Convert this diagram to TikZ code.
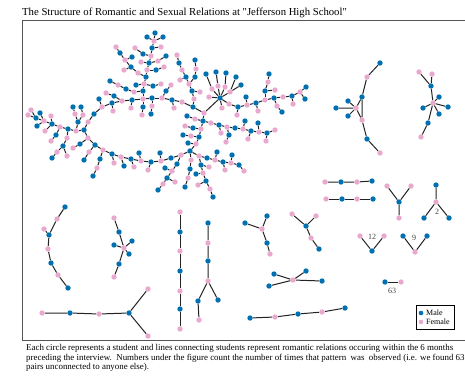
\documentclass[tikz,border=0pt]{standalone}
\usepackage{fontspec}
\setmainfont{Liberation Serif}[Ligatures=TeXOff]
\pgfdeclarelayer{bg}
\pgfsetlayers{bg,main}
\definecolor{mblue}{RGB}{0,112,176}
\definecolor{fpink}{RGB}{233,168,205}
\definecolor{edgec}{RGB}{35,35,35}
\definecolor{framec}{RGB}{85,85,85}
\tikzset{
  mm/.style={circle,fill=mblue,inner sep=0pt,minimum size=5.4pt},
  ff/.style={circle,fill=fpink,inner sep=0pt,minimum size=5.4pt},
  lnk/.style={draw=edgec,line width=1pt},
  cnt/.style={font=\fontsize{8}{9}\selectfont,text=black!75,inner sep=0pt},
  captxt/.style={font=\fontsize{8.9}{10}\selectfont,anchor=base west,inner sep=0pt},
}
\newcommand\chain[3]{%
  \xdef\chainprev{#2}%
  \foreach \cx/\cy/\cg [count=\ci] in {#3}{%
    \node[\cg] (#1-\ci) at (\cx,\cy) {};
    \begin{pgfonlayer}{bg}\draw[lnk] (\chainprev) -- (#1-\ci);\end{pgfonlayer}
    \xdef\chainprev{#1-\ci}%
  }%
}
\newcommand\lk[2]{\begin{pgfonlayer}{bg}\draw[lnk] (#1) -- (#2);\end{pgfonlayer}}
\begin{document}
\begin{tikzpicture}[x=1pt,y=-1pt]
\useasboundingbox (0,0) rectangle (465,375);
% frame
\draw[framec,line width=1pt] (465,20) -- (22,20) -- (22,340) -- (465,340);
% title
\node[anchor=base west,inner sep=0pt,font=\fontsize{10.7}{12}\selectfont] (title) at (22,15.5) {The Structure of Romantic and Sexual Relations at "Jefferson High School"};
% caption
\node[captxt] (cap1) at (26,350) {Each circle represents a student and lines connecting students represent romantic relations occuring within the 6 months};
\node[captxt] (cap2) at (26,360) {preceding the interview.\ \ Numbers under the figure count the number of times that pattern\ \ was\ \ observed (i.e. we found 63};
\node[captxt] (cap3) at (26,369) {pairs unconnected to anyone else).};

% ===== big component =====
\node[ff] (T) at (143,99) {};
\chain{u}{T}{152/98/mm,162/98/ff,172/100/mm,182/102/ff,193/107/mm,204/113/ff,203/121/mm,201/129/ff,199/137/mm,196/144/ff,190/151/mm,181/155/ff,171/158/mm,161/161/ff,151/162/mm,141/161/ff,131/159/mm,121/157/ff,112/154/mm,103/150/ff,95/145/mm,88/138/ff,84/130/mm,88/122/ff,94/114/mm,102/107/ff,112/103/mm,122/101/ff,132/100/mm}
\lk{u-29}{T}
% top tree
\chain{t}{T}{143/91/mm,144/84/ff,146/77/mm,147/70/ff,149/63/mm,151/56/ff,152/48/mm,154/41/ff,155/33/mm}
\chain{ta}{t-8}{147/37/mm}
\chain{tb}{t-8}{163/37/mm}
\chain{tc}{t-7}{161/47/ff}
\chain{td}{t-6}{143/54/mm,135/48/ff}
\chain{te}{t-5}{158/61/ff,166/56/mm}
\chain{tf}{t-4}{156/70/mm,164/67/ff}
\chain{tg}{t-3}{138/73/ff,131/67/mm,125/60/ff,120/53/mm,116/47/ff}
\chain{th}{tg-2}{124/70/ff}
\chain{ti}{tg-3}{132/57/mm}
\chain{tj}{t-2}{153/86/mm,161/84/ff}
\chain{tk}{t-2}{136/85/mm}
\chain{tl}{t-1}{134/92/ff,126/89/mm,118/85/ff,110/81/mm}
\chain{tn}{u-28}{114/96/mm,106/93/ff}
\chain{to}{T}{143/107/mm,142/115/ff}
\chain{tp}{u-1}{152/106/ff,151/114/mm}
\chain{tr}{t-5}{141/62/ff}
% upper arc branches
\chain{ua}{u-2}{166/91/mm,171/85/ff}
\chain{uc}{u-5}{194/99/ff,192/91/mm,189/84/ff,186/77/mm,182/70/ff,179/63/mm,177/55/ff}
\chain{ud}{uc-3}{195/77/mm,196/69/ff,195/60/mm}
\chain{ue}{uc-4}{180/80/ff}
\chain{uf}{uc-2}{200/92/ff}
\chain{ug}{u-3}{174/108/ff}
% star
\chain{s}{u-6}{220/98/mm}
\chain{sa}{s-1}{212/89/ff,206/74/mm}
\chain{sb}{s-1}{218/86/ff,216/72/mm}
\chain{sc}{s-1}{225/87/ff,226/73/mm}
\chain{sd}{s-1}{230/92/ff,236/77/mm}
\chain{se}{sd-1}{241/85/mm}
\chain{sf}{s-1}{209/97/ff}
\chain{sg}{s-1}{222/108/ff}
% right arm
\chain{sh}{s-1}{229/104/ff,238/107/mm,247/105/ff,256/103/mm,265/100/ff,274/98/mm,283/97/ff,292/96/mm,300/92/ff,306/87/mm}
\chain{si}{sh-9}{305/99/mm}
\chain{sj}{sh-5}{265/91/mm,268/82/ff,269/74/mm}
\chain{sk}{sj-1}{275/90/ff}
\chain{sl}{sh-4}{258/111/ff}
\chain{sm}{sh-6}{277/106/ff,282/112/mm}
\chain{sn}{sh-2}{237/115/ff}
\chain{so}{sh-3}{246/97/mm}
\chain{sp}{sh-8}{293/104/ff}
% lower right branch
\chain{lr}{u-7}{211/123/ff,219/125/mm,227/127/ff,235/128/mm,243/129/ff,251/131/mm,259/132/ff,267/133/mm,275/130/ff}
\chain{lra}{lr-5}{245/121/mm}
\chain{lrb}{lr-6}{248/139/ff}
\chain{lrc}{lr-7}{258/123/mm}
\chain{lrd}{lr-8}{266/141/ff}
\chain{lre}{lr-2}{221/133/ff}
\chain{lrf}{lr-3}{229/135/mm,226/142/ff}
% comb left of right side
\chain{ca}{u-7}{195/119/ff,187/116/mm}
\chain{cb}{u-8}{193/128/mm,185/126/ff}
\chain{cc}{u-9}{191/136/ff,183/135/mm}
\chain{cd}{u-10}{188/143/mm}
% bottom tree
\chain{ba}{u-11}{199/156/ff,207/158/mm,215/160/ff,223/162/mm,231/163/ff,239/165/mm}
\chain{bb}{ba-1}{201/165/mm,203/173/ff,206/181/mm,210/189/ff,213/197/mm}
\chain{bc}{u-11}{191/160/ff,190/169/mm,188/178/ff,185/187/mm}
\chain{bd}{u-12}{177/164/mm,172/171/ff,167/178/mm,163/184/ff,158/190/mm}
\chain{be}{ba-3}{217/152/mm}
\chain{bf}{ba-4}{225/170/ff}
\chain{bq}{ba-5}{232/155/mm}
\chain{bh}{bb-1}{209/167/ff}
\chain{bi}{bb-3}{198/185/ff}
\chain{bj}{bb-2}{196/174/mm}
\chain{bl}{bd-2}{165/168/mm}
\chain{bm}{bd-3}{175/182/ff}
\chain{bo}{ba-6}{244/171/ff}
% lower arc branches
\chain{la}{u-15}{148/170/ff}
\chain{lb}{u-17}{134/167/ff}
\chain{lc}{u-19}{114/163/ff}
\chain{ld}{u-20}{100/159/mm,97/168/ff,93/176/mm}
\chain{le}{u-18}{124/166/mm}
\chain{lf}{u-16}{139/153/mm}
\chain{lg}{u-14}{160/153/mm}
\chain{lh}{u-21}{89/152/ff,84/160/mm}
\chain{li}{u-22}{80/144/mm,73/148/ff}
% left cluster
\chain{lx}{u-23}{76/131/ff,68/129/mm,60/127/ff,52/124/mm,44/121/ff,36/118/mm,28/115/ff}
\chain{lxa}{lx-1}{78/122/mm,75/114/ff,73/107/mm}
\chain{lxb}{lxa-1}{83/115/ff,81/107/mm}
\chain{lxc}{lx-6}{31/110/ff}
\chain{lxd}{lx-5}{40/113/mm}
\chain{lxe}{lx-4}{51/116/ff}
\chain{lxf}{lx-4}{45/131/ff}
\chain{lxg}{lx-3}{56/135/mm,51/141/ff}
\chain{lxh}{lx-2}{67/138/ff,63/146/mm,57/152/ff,52/158/mm}
\chain{lxi}{lxh-2}{67/156/ff}
\chain{lxl}{lx-5}{37/126/mm}
% upper-left arc branches
\chain{ab}{u-26}{99/99/mm}
\chain{ac}{u-27}{113/111/ff}
\chain{ad}{u-29}{131/108/ff}

% ===== component A =====
\node[mm] (A1) at (380,63) {};
\node[ff] (A2) at (367,77) {};
\node[mm] (A3) at (362,97) {};
\node[ff] (A4) at (356,108) {};
\node[mm] (A5) at (348,101) {};
\node[mm] (A6) at (336,108) {};
\node[mm] (A7) at (348,116) {};
\node[ff] (A8) at (362,120) {};
\node[mm] (A9) at (367,139) {};
\node[ff] (A10) at (380,153) {};
\draw[lnk] (A1)--(A2) (A2)--(A3) (A3)--(A4) (A3)--(A8) (A4)--(A8) (A4)--(A5) (A4)--(A6) (A4)--(A7) (A8)--(A9) (A9)--(A10);
% ===== component B =====
\node[ff] (B1) at (419,72) {};
\node[ff] (B2) at (432,74) {};
\node[mm] (B3) at (431,86) {};
\node[ff] (B4) at (433,103) {};
\node[mm] (B5) at (439,97) {};
\node[mm] (B6) at (448,107) {};
\node[mm] (B7) at (439,114) {};
\node[mm] (B8) at (423,108) {};
\node[mm] (B9) at (428,123) {};
\node[ff] (B10) at (421,137) {};
\draw[lnk] (B1)--(B3) (B2)--(B3) (B3)--(B4) (B4)--(B5) (B4)--(B6) (B4)--(B7) (B4)--(B8) (B4)--(B9) (B9)--(B10);
% ===== chains of four =====
\node[ff] (C1) at (325,182) {};
\node[mm] (C2) at (341,182) {};
\node[ff] (C3) at (357,182) {};
\node[mm] (C4) at (372,181) {};
\draw[lnk] (C1)--(C2) (C2)--(C3) (C3)--(C4);
\node[ff] (D1) at (326,199) {};
\node[mm] (D2) at (342,199) {};
\node[ff] (D3) at (357,199) {};
\node[mm] (D4) at (373,199) {};
\draw[lnk] (D1)--(D2) (D2)--(D3) (D3)--(D4);
% ===== Y =====
\node[ff] (Y1) at (387,186) {};
\node[ff] (Y2) at (411,186) {};
\node[mm] (Y3) at (399,202) {};
\node[ff] (Y4) at (399,218) {};
\draw[lnk] (Y1)--(Y3) (Y2)--(Y3) (Y3)--(Y4);
% ===== "2" =====
\node[mm] (Z1) at (436,185) {};
\node[ff] (Z2) at (436,202) {};
\node[mm] (Z3) at (424,218) {};
\node[mm] (Z4) at (449,218) {};
\draw[lnk] (Z1)--(Z2) (Z2)--(Z3) (Z2)--(Z4);
\node[cnt] (Zl) at (437,212) {2};
% ===== "12" =====
\node[ff] (P1) at (360,236) {};
\node[ff] (P2) at (384,236) {};
\node[mm] (P3) at (372,251) {};
\draw[lnk] (P1)--(P3) (P2)--(P3);
\node[cnt] (Pl) at (372,237) {12};
% ===== "9" =====
\node[mm] (Q1) at (403,236) {};
\node[mm] (Q2) at (427,236) {};
\node[ff] (Q3) at (415,252) {};
\draw[lnk] (Q1)--(Q3) (Q2)--(Q3);
\node[cnt] (Ql) at (414,238) {9};
% ===== pair "63" =====
\node[mm] (R1) at (385,282) {};
\node[ff] (R2) at (401,282) {};
\draw[lnk] (R1)--(R2);
\node[cnt] (Rl) at (392,291) {63};
% ===== component near (305,230) =====
\node[ff] (E1) at (292,214) {};
\node[ff] (E2) at (316,216) {};
\node[mm] (E3) at (306,226) {};
\node[ff] (E4) at (311,238) {};
\node[mm] (E5) at (319,249) {};
\draw[lnk] (E1)--(E3) (E2)--(E3) (E3)--(E4) (E4)--(E5);
% ===== vertical with fork =====
\node[mm] (F1) at (208,223) {};
\node[ff] (F2) at (208,243) {};
\node[mm] (F3) at (208,261) {};
\node[ff] (F4) at (208,281) {};
\node[mm] (F5) at (198,301) {};
\node[mm] (F6) at (218,300) {};
\node[ff] (F7) at (199,320) {};
\draw[lnk] (F1)--(F2) (F2)--(F3) (F3)--(F4) (F4)--(F5) (F4)--(F6) (F5)--(F7);
% ===== Y near (260,235) =====
\node[mm] (G1) at (245,223) {};
\node[mm] (G2) at (267,216) {};
\node[ff] (G3) at (262,229) {};
\node[mm] (G4) at (267,243) {};
\node[ff] (G5) at (270,254) {};
\draw[lnk] (G1)--(G3) (G2)--(G3) (G3)--(G4) (G4)--(G5);
% ===== star near (293,280) =====
\node[mm] (H1) at (274,274) {};
\node[mm] (H2) at (306,271) {};
\node[mm] (H3) at (269,286) {};
\node[ff] (H4) at (293,280) {};
\node[mm] (H5) at (322,281) {};
\draw[lnk] (H1)--(H4) (H2)--(H4) (H3)--(H4) (H5)--(H4);
% ===== long line =====
\node[mm] (I1) at (250,318) {};
\node[ff] (I2) at (275,317) {};
\node[mm] (I3) at (298,314) {};
\node[ff] (I4) at (322,312) {};
\node[mm] (I5) at (345,308) {};
\draw[lnk] (I1)--(I2) (I2)--(I3) (I3)--(I4) (I4)--(I5);
% ===== left arc =====
\node[mm] (J1) at (65,207) {};
\node[ff] (J2) at (57,219) {};
\node[ff] (J3) at (44,229) {};
\node[mm] (J4) at (49,235) {};
\node[ff] (J5) at (48,249) {};
\node[mm] (J6) at (51,263) {};
\node[ff] (J7) at (58,275) {};
\node[mm] (J8) at (68,288) {};
\draw[lnk] (J1)--(J2) (J2)--(J4) (J3)--(J4) (J4)--(J5) (J5)--(J6) (J6)--(J7) (J7)--(J8);
% ===== star left =====
\node[ff] (K1) at (114,218) {};
\node[mm] (K2) at (119,232) {};
\node[mm] (K3) at (114,245) {};
\node[mm] (K4) at (132,241) {};
\node[ff] (K5) at (124,248) {};
\node[mm] (K6) at (129,254) {};
\node[mm] (K7) at (119,264) {};
\node[ff] (K8) at (114,277) {};
\draw[lnk] (K1)--(K2) (K2)--(K5) (K3)--(K5) (K4)--(K5) (K6)--(K5) (K5)--(K7) (K7)--(K8);
% ===== vertical chain =====
\node[ff] (V1) at (180,212) {};
\node[mm] (V2) at (180,232) {};
\node[ff] (V3) at (180,251) {};
\node[mm] (V4) at (180,271) {};
\node[ff] (V5) at (180,291) {};
\node[mm] (V6) at (180,309) {};
\node[ff] (V7) at (180,329) {};
\draw[lnk] (V1)--(V2) (V2)--(V3) (V3)--(V4) (V4)--(V5) (V5)--(V6) (V6)--(V7);
% ===== bottom-left =====
\node[ff] (W1) at (42,313) {};
\node[mm] (W2) at (70,313) {};
\node[ff] (W3) at (99,314) {};
\node[mm] (W4) at (129,313) {};
\node[ff] (W5) at (148,289) {};
\node[ff] (W6) at (148,336) {};
\draw[lnk] (W1)--(W2) (W2)--(W3) (W3)--(W4) (W4)--(W5) (W4)--(W6);
% ===== legend =====
\draw[black,line width=0.9pt] (416,305) rectangle (454,329);
\node[mm,minimum size=4.6pt] (Lm) at (421,313) {};
\node[ff,minimum size=4.6pt] (Lf) at (421,322) {};
\node[anchor=west,inner sep=0pt,font=\fontsize{8}{9}\selectfont] (Lmt) at (426,313) {Male};
\node[anchor=west,inner sep=0pt,font=\fontsize{8}{9}\selectfont] (Lft) at (426,322) {Female};
\end{tikzpicture}
\end{document}
